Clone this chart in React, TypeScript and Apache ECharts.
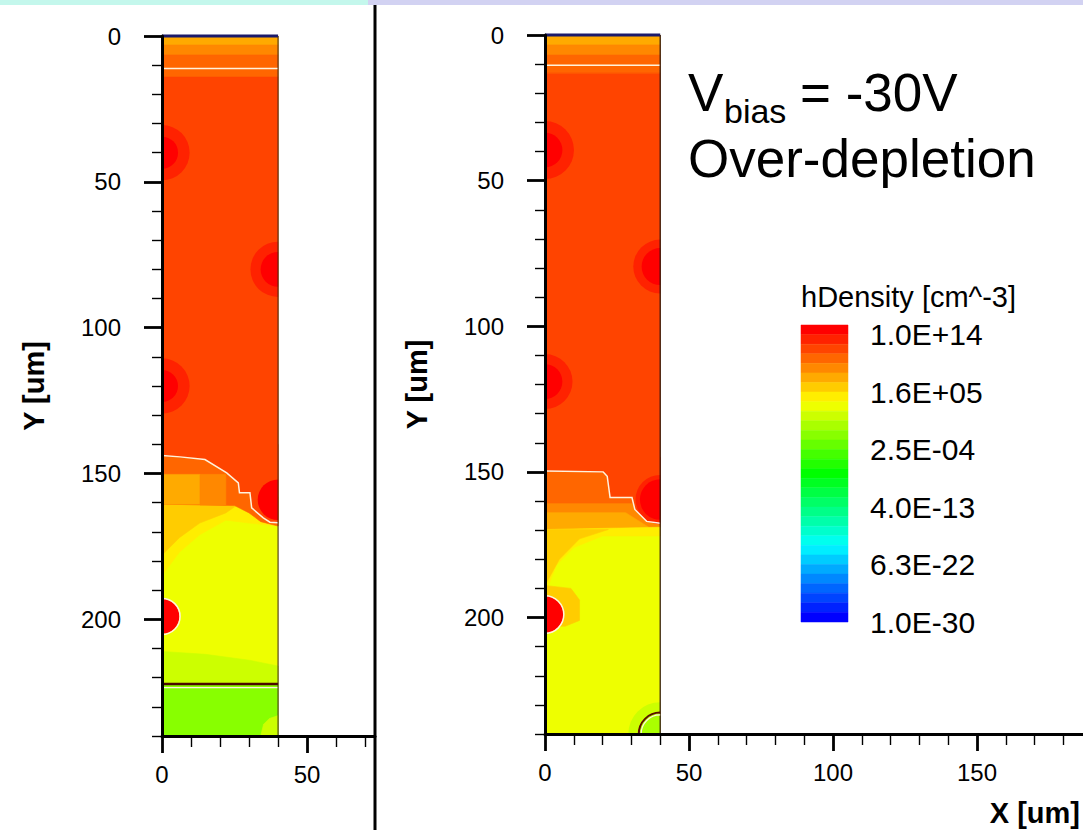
import { useEffect, useRef } from "react";
import * as echarts from "echarts";

// ---- colour levels (31 contour bands, top = 1.0E+14, bottom = 1.0E-30) ----
const LEVEL_COLORS = [
  "#ff0000", "#ff2200", "#ff4400", "#ff6600", "#ff8800", "#ffaa00", "#ffcc00", "#ffee00",
  "#eeff00", "#ccff00", "#aaff00", "#88ff00", "#66ff00", "#44ff00", "#22ff00", "#00ff00",
  "#00ff22", "#00ff44", "#00ff66", "#00ff88", "#00ffaa", "#00ffcc", "#00ffee", "#00eeff",
  "#00ccff", "#00aaff", "#0088ff", "#0066ff", "#0044ff", "#0022ff", "#0000ff",
];
const LEGEND_LABELS = ["1.0E-30", "6.3E-22", "4.0E-13", "2.5E-04", "1.6E+05", "1.0E+14"];
const LEGEND_LABEL_STEPS = [0, 6, 12, 18, 24, 30];

// ---- axes ----
const DEVICE_W = 40;
const DEVICE_D = 240;
const LEFT_X_MAX = 73.4;
const RIGHT_X_MAX = 186.8;
const Y_MAJOR = [0, 50, 100, 150, 200];
const Y_MINOR = [10, 20, 30, 40, 60, 70, 80, 90, 110, 120, 130, 140, 160, 170, 180, 190, 210, 220, 230, 240];
const LEFT_X_MAJOR = [0, 50];
const LEFT_X_MINOR = [10, 20, 30, 40, 60, 70];
const RIGHT_X_MAJOR = [0, 50, 100, 150];
const RIGHT_X_MINOR = [10, 20, 30, 40, 60, 70, 80, 90, 110, 120, 130, 140, 160, 170, 180];

type Region = { level: number; pts: number[][] };
type Blob = { x: number; y: number; r: number; level: number };
type Line = { color: string; width: number; pts: number[][] };
type Ring = { x: number; y: number; r: number; color: string; width: number };

// ---- left panel (um) ----
const leftBoundary = [
  [0, 143.8], [6.2, 144.3], [14.8, 145.2], [22.3, 149.8], [26.3, 153.2], [26.7, 156.6],
  [30.3, 156.6], [30.9, 161.8], [34.9, 165.2], [37.2, 166.7], [40, 166.9],
];
const leftRegions: Region[] = [
  { level: 8, pts: [[0, 0], [40, 0], [40, 240], [0, 240]] },
  { level: 5, pts: [[0, 0], [40, 0], [40, 3.1], [0, 3.1]] },
  { level: 4, pts: [[0, 3.1], [40, 3.1], [40, 6.5], [0, 6.5]] },
  { level: 3, pts: [[0, 6.5], [40, 6.5], [40, 14], [0, 14]] },
  { level: 7, pts: [[0, 158], [40, 158], [40, 168], [30, 167], [22, 166], [13, 171], [6, 177], [0, 185]] },
  { level: 6, pts: [[0, 158], [30, 158], [22, 163.5], [13, 167], [6, 172], [0, 178]] },
  { level: 3, pts: [[0, 140], [40, 140], [40, 168], [34, 166.5], [30, 163.5], [25, 161], [0, 160.5]] },
  { level: 5, pts: [[0, 150.3], [13.1, 150.3], [13.1, 160.5], [0, 160.5]] },
  { level: 4, pts: [[13.1, 150.3], [22, 150.3], [22, 160.8], [13.1, 160.8]] },
  { level: 2, pts: [[0, 14], [40, 14], ...leftBoundary.slice().reverse()] },
  { level: 9, pts: [[0, 211], [15, 212], [30, 214], [40, 216], [40, 222.5], [0, 222.5]] },
  { level: 11, pts: [[0, 222.5], [40, 222.5], [40, 240], [0, 240]] },
  { level: 9, pts: [[34, 240], [35, 236], [37, 234], [40, 233], [40, 240]] },
];
const leftBlobs: Blob[] = [
  { x: 0, y: 40, r: 9.5, level: 1 }, { x: 0, y: 40, r: 5.5, level: 0 },
  { x: 40, y: 80, r: 9.5, level: 1 }, { x: 40, y: 80, r: 6, level: 0 },
  { x: 0, y: 120, r: 9.5, level: 1 }, { x: 0, y: 120, r: 5.5, level: 0 },
  { x: 40, y: 159, r: 7, level: 0 },
  { x: 0, y: 199, r: 6, level: 0 },
];
const leftLines: Line[] = [
  { color: "#fff3dc", width: 1.5, pts: [[0, 11.1], [40, 11.1]] },
  { color: "#fff3dc", width: 1.5, pts: leftBoundary },
  { color: "#4a0800", width: 2.5, pts: [[0, 222.2], [40, 222.2]] },
  { color: "#fff3dc", width: 1.3, pts: [[0, 223.4], [40, 223.4]] },
  { color: "#3a2020", width: 1, pts: [[40, 0], [40, 240]] },
  { color: "#1b1a6b", width: 3, pts: [[0, 0], [40, 0]] },
];
const leftRings: Ring[] = [{ x: 0, y: 199, r: 6.2, color: "#fff3dc", width: 1.5 }];

// ---- right panel (um) ----
const rightBoundary = [
  [0, 149.7], [20.2, 150], [21.6, 151.5], [22.6, 158.8], [30.2, 158.8], [31.2, 162.9],
  [35.3, 167], [40, 167.6],
];
const rightRegions: Region[] = [
  { level: 8, pts: [[0, 0], [40, 0], [40, 240], [0, 240]] },
  { level: 5, pts: [[0, 0], [40, 0], [40, 3.4], [0, 3.4]] },
  { level: 4, pts: [[0, 3.4], [40, 3.4], [40, 6.9], [0, 6.9]] },
  { level: 3, pts: [[0, 6.9], [40, 6.9], [40, 13.1], [0, 13.1]] },
  { level: 4, pts: [[0, 145], [40, 145], [40, 169], [0, 169.8]] },
  { level: 5, pts: [[0, 164], [28, 164], [36, 169], [0, 169.8]] },
  { level: 7, pts: [[0, 169.8], [40, 169], [40, 172], [20, 172], [10, 176], [4, 182], [0, 192]] },
  { level: 6, pts: [[0, 169.8], [22, 169.8], [12, 173], [5, 180], [0, 189]] },
  { level: 3, pts: [[0, 145], [40, 145], [40, 165], [30, 160.7], [0, 160.7]] },
  { level: 6, pts: [[0, 189], [9, 190], [12, 194], [12, 201], [7, 203], [0, 203]] },
  { level: 2, pts: [[0, 13.1], [40, 13.1], ...rightBoundary.slice().reverse()] },
];
const rightBlobs: Blob[] = [
  { x: 0, y: 39.5, r: 10, level: 1 }, { x: 0, y: 39.5, r: 6, level: 0 },
  { x: 40, y: 79.5, r: 9.3, level: 1 }, { x: 40, y: 79.5, r: 6.4, level: 0 },
  { x: 0, y: 119, r: 9.5, level: 1 }, { x: 0, y: 119, r: 6, level: 0 },
  { x: 40, y: 159.5, r: 8.5, level: 1 }, { x: 40, y: 159.5, r: 7, level: 0 },
  { x: 0, y: 199, r: 6.3, level: 0 },
  { x: 40, y: 240, r: 11, level: 9 }, { x: 40, y: 240, r: 7, level: 10 },
];
const rightLines: Line[] = [
  { color: "#fff3dc", width: 1.5, pts: [[0, 10.4], [40, 10.4]] },
  { color: "#fff3dc", width: 1.5, pts: rightBoundary },
  { color: "#2a1010", width: 1.2, pts: [[40, 0], [40, 240]] },
  { color: "#1b1a6b", width: 3, pts: [[0, 0], [40, 0]] },
];
const rightRings: Ring[] = [
  { x: 0, y: 199, r: 6.5, color: "#fff3dc", width: 1.5 },
  { x: 40, y: 240, r: 7.4, color: "#5a1000", width: 2 },
  { x: 40, y: 240, r: 6.6, color: "#fff3dc", width: 1.2 },
];

const FONT = "Liberation Sans, Arial, sans-serif";

function arcRange(x: number, y: number): [number, number] {
  if (x <= 0) return [-Math.PI / 2, Math.PI / 2];
  if (y >= DEVICE_D) return [Math.PI, Math.PI * 1.5];
  return [Math.PI / 2, Math.PI * 1.5];
}

function panelSeries(axisIdx: number, regions: Region[], blobs: Blob[], lines: Line[], rings: Ring[]) {
  const base = { type: "custom", coordinateSystem: "cartesian2d", xAxisIndex: axisIdx, yAxisIndex: axisIdx, silent: true, z: 2 };
  return [
    {
      ...base,
      data: regions.map((r) => r.pts[0]),
      renderItem: (p: any, api: any) => {
        const r = regions[p.dataIndex];
        const c = LEVEL_COLORS[r.level];
        return { type: "polygon", shape: { points: r.pts.map((q) => api.coord(q)) }, style: { fill: c, stroke: c, lineWidth: 0.6 } };
      },
    },
    {
      ...base,
      data: blobs.map((b) => [b.x, b.y]),
      renderItem: (p: any, api: any) => {
        const b = blobs[p.dataIndex];
        const c = api.coord([b.x, b.y]);
        const s = api.size([b.r, b.r]);
        const [a0, a1] = arcRange(b.x, b.y);
        return {
          type: "sector",
          shape: { cx: c[0], cy: c[1], r0: 0, r: (s[0] + s[1]) / 2, startAngle: a0, endAngle: a1, clockwise: true },
          style: { fill: LEVEL_COLORS[b.level] },
        };
      },
    },
    {
      ...base,
      data: lines.map((l) => l.pts[0]),
      renderItem: (p: any, api: any) => {
        const l = lines[p.dataIndex];
        return { type: "polyline", shape: { points: l.pts.map((q) => api.coord(q)) }, style: { stroke: l.color, lineWidth: l.width, fill: null } };
      },
    },
    {
      ...base,
      data: rings.map((r) => [r.x, r.y]),
      renderItem: (p: any, api: any) => {
        const r = rings[p.dataIndex];
        const c = api.coord([r.x, r.y]);
        const s = api.size([r.r, r.r]);
        const [a0, a1] = arcRange(r.x, r.y);
        return {
          type: "arc",
          shape: { cx: c[0], cy: c[1], r: (s[0] + s[1]) / 2, startAngle: a0, endAngle: a1, clockwise: true },
          style: { stroke: r.color, lineWidth: r.width, fill: null },
        };
      },
    },
  ];
}

function xAxes(grid: number, max: number, major: number[], minor: number[]) {
  const common = { type: "value", gridIndex: grid, min: 0, max, position: "bottom", splitLine: { show: false }, z: 5 };
  return [
    {
      ...common,
      axisLine: { show: true, onZero: false, lineStyle: { color: "#000", width: 3 } },
      axisTick: { show: true, length: 17, customValues: major, lineStyle: { color: "#000", width: 2.8 } },
      axisLabel: { show: true, customValues: major, fontSize: 24, color: "#000", margin: 26, fontFamily: FONT },
    },
    {
      ...common,
      axisLine: { show: false, onZero: false },
      axisTick: { show: true, length: 11, customValues: minor, lineStyle: { color: "#000", width: 1.4 } },
      axisLabel: { show: false },
    },
  ];
}

function yAxes(grid: number) {
  const common = { type: "value", gridIndex: grid, min: 0, max: DEVICE_D, inverse: true, position: "left", splitLine: { show: false }, z: 5 };
  return [
    {
      ...common,
      name: "Y [um]",
      nameLocation: "middle",
      nameRotate: 90,
      nameGap: 114,
      nameTextStyle: { fontSize: 29, fontWeight: "bold", color: "#000", fontFamily: FONT },
      axisLine: { show: true, onZero: false, lineStyle: { color: "#000", width: 3 } },
      axisTick: { show: true, length: 18, customValues: Y_MAJOR, lineStyle: { color: "#000", width: 2.8 } },
      axisLabel: { show: true, customValues: Y_MAJOR, fontSize: 24, color: "#000", margin: 41, fontFamily: FONT },
    },
    {
      ...common,
      axisLine: { show: false, onZero: false },
      axisTick: { show: true, length: 10, customValues: Y_MINOR, lineStyle: { color: "#000", width: 1.4 } },
      axisLabel: { show: false },
    },
  ];
}

function buildOption() {
  return {
    animation: false,
    backgroundColor: "#ffffff",
    textStyle: { fontFamily: FONT },
    grid: [
      { left: 162, top: 36, width: 375 - 162, height: 700 },
      { left: 545, top: 35, width: 1083 - 545, height: 699 },
      { left: 801, top: 325, width: 47, height: 297 },
    ],
    xAxis: [
      ...xAxes(0, LEFT_X_MAX, LEFT_X_MAJOR, LEFT_X_MINOR),
      ...xAxes(1, RIGHT_X_MAX, RIGHT_X_MAJOR, RIGHT_X_MINOR),
      { type: "value", gridIndex: 2, min: 0, max: 1, show: false },
    ],
    yAxis: [
      ...yAxes(0),
      ...yAxes(1),
      {
        type: "value",
        gridIndex: 2,
        min: 0,
        max: LEVEL_COLORS.length,
        position: "right",
        splitLine: { show: false },
        axisLine: { show: false },
        axisTick: { show: false },
        axisLabel: {
          show: true,
          customValues: LEGEND_LABEL_STEPS,
          formatter: (v: number) => {
            const i = LEGEND_LABEL_STEPS.indexOf(Math.round(v));
            return i >= 0 ? LEGEND_LABELS[i] : "";
          },
          fontSize: 30,
          margin: 22,
          color: "#000",
          fontFamily: FONT,
        },
      },
    ],
    series: [
      ...panelSeries(0, leftRegions, leftBlobs, leftLines, leftRings),
      ...panelSeries(2, rightRegions, rightBlobs, rightLines, rightRings),
      {
        type: "custom",
        coordinateSystem: "cartesian2d",
        xAxisIndex: 4,
        yAxisIndex: 4,
        silent: true,
        data: LEVEL_COLORS.map((_, i) => [0.5, LEVEL_COLORS.length - i - 0.5]),
        renderItem: (p: any, api: any) => {
          const i = p.dataIndex;
          const top = LEVEL_COLORS.length - i;
          const a = api.coord([0, top]);
          const b = api.coord([1, top - 1]);
          return {
            type: "rect",
            shape: { x: a[0], y: a[1], width: b[0] - a[0], height: b[1] - a[1] },
            style: { fill: LEVEL_COLORS[i], stroke: LEVEL_COLORS[i], lineWidth: 0.5 },
          };
        },
      },
    ],
    graphic: [
      { type: "rect", silent: true, shape: { x: 0, y: 0, width: 368, height: 5 }, style: { fill: "#c4f7ec" } },
      { type: "rect", silent: true, shape: { x: 368, y: 0, width: 715, height: 5 }, style: { fill: "#d2d2f2" } },
      { type: "rect", silent: true, shape: { x: 373.5, y: 5, width: 3, height: 825 }, style: { fill: "#000" } },
      { type: "text", silent: true, x: 688, y: 92, style: { text: "V", fontSize: 53, fontFamily: FONT, fill: "#000", verticalAlign: "middle" } },
      { type: "text", silent: true, x: 724, y: 111, style: { text: "bias", fontSize: 34, fontFamily: FONT, fill: "#000", verticalAlign: "middle" } },
      { type: "text", silent: true, x: 800, y: 92, style: { text: "= -30V", fontSize: 53, fontFamily: FONT, fill: "#000", verticalAlign: "middle" } },
      { type: "text", silent: true, x: 688, y: 158, style: { text: "Over-depletion", fontSize: 53, fontFamily: FONT, fill: "#000", verticalAlign: "middle" } },
      { type: "text", silent: true, x: 801, y: 297, style: { text: "hDensity [cm^-3]", fontSize: 29, fontFamily: FONT, fill: "#000", verticalAlign: "middle" } },
      { type: "text", silent: true, x: 1080, y: 813, style: { text: "X [um]", fontSize: 29, fontWeight: "bold", fontFamily: FONT, fill: "#000", align: "right", verticalAlign: "middle" } },
    ],
  };
}

export default function App() {
  const ref = useRef<HTMLDivElement>(null);
  useEffect(() => {
    if (!ref.current) return;
    const chart = echarts.init(ref.current, undefined, { renderer: "svg" });
    chart.setOption(buildOption() as any);
    return () => chart.dispose();
  }, []);
  return (
    <div
      ref={ref}
      style={{ position: "fixed", left: 0, top: 0, width: 1083, height: 830, background: "#fff" }}
    />
  );
}
